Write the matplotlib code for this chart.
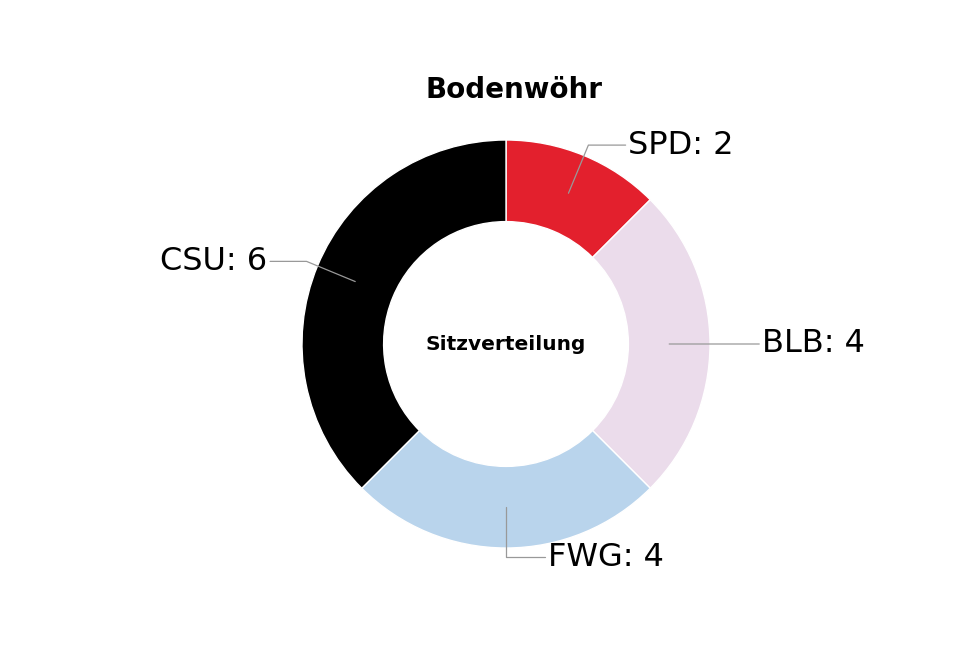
import numpy as np
import matplotlib
matplotlib.use("Agg")
import matplotlib.pyplot as plt

# Sitzverteilung Gemeinderat Bodenwöhr
parties = ["SPD", "BLB", "FWG", "CSU"]
seats = [2, 4, 4, 6]
colors = ["#E3202D", "#EBDCEB", "#B9D4EC", "#000000"]

# label positions (text anchor, in data units of the pie)
label_pos = {
    "SPD": (0.60, 0.975, "left"),
    "BLB": (1.255, 0.0, "left"),
    "FWG": (0.205, -1.045, "left"),
    "CSU": (-1.17, 0.405, "right"),
}

fig = plt.figure(figsize=(9.8, 6.58), dpi=100)
ax = fig.add_axes([0, 0, 1, 1])

wedges, _ = ax.pie(
    seats,
    colors=colors,
    startangle=90,
    counterclock=False,
    radius=1.0,
    wedgeprops=dict(width=0.4, edgecolor="white", linewidth=1),
)

for w, name, n in zip(wedges, parties, seats):
    ang = (w.theta2 + w.theta1) / 2.0
    x = 0.8 * np.cos(np.deg2rad(ang))
    y = 0.8 * np.sin(np.deg2rad(ang))
    tx, ty, ha = label_pos[name]
    if abs(np.sin(np.deg2rad(ang))) < 1e-3:
        conn = "arc3"  # horizontal leader, no bend
    else:
        conn = f"angle,angleA=0,angleB={ang}"
    ax.annotate(
        f"{name}: {n}",
        xy=(x, y),
        xytext=(tx, ty),
        ha=ha,
        va="center",
        fontsize=23,
        arrowprops=dict(
            arrowstyle="-",
            color="#999999",
            lw=0.9,
            connectionstyle=conn,
            shrinkA=0,
            shrinkB=0,
        ),
    )

ax.text(0.0, 0.0, "Sitzverteilung", ha="center", va="center",
        fontsize=14.5, fontweight="bold")
ax.text(0.04, 1.245, "Bodenwöhr", ha="center", va="center",
        fontsize=20, fontweight="bold")

ax.set_xlim(-506 / 204, 474 / 204)
ax.set_ylim(-314 / 204, 344 / 204)
ax.set_aspect("equal")
ax.axis("off")

fig.savefig("out.png", dpi=100)
